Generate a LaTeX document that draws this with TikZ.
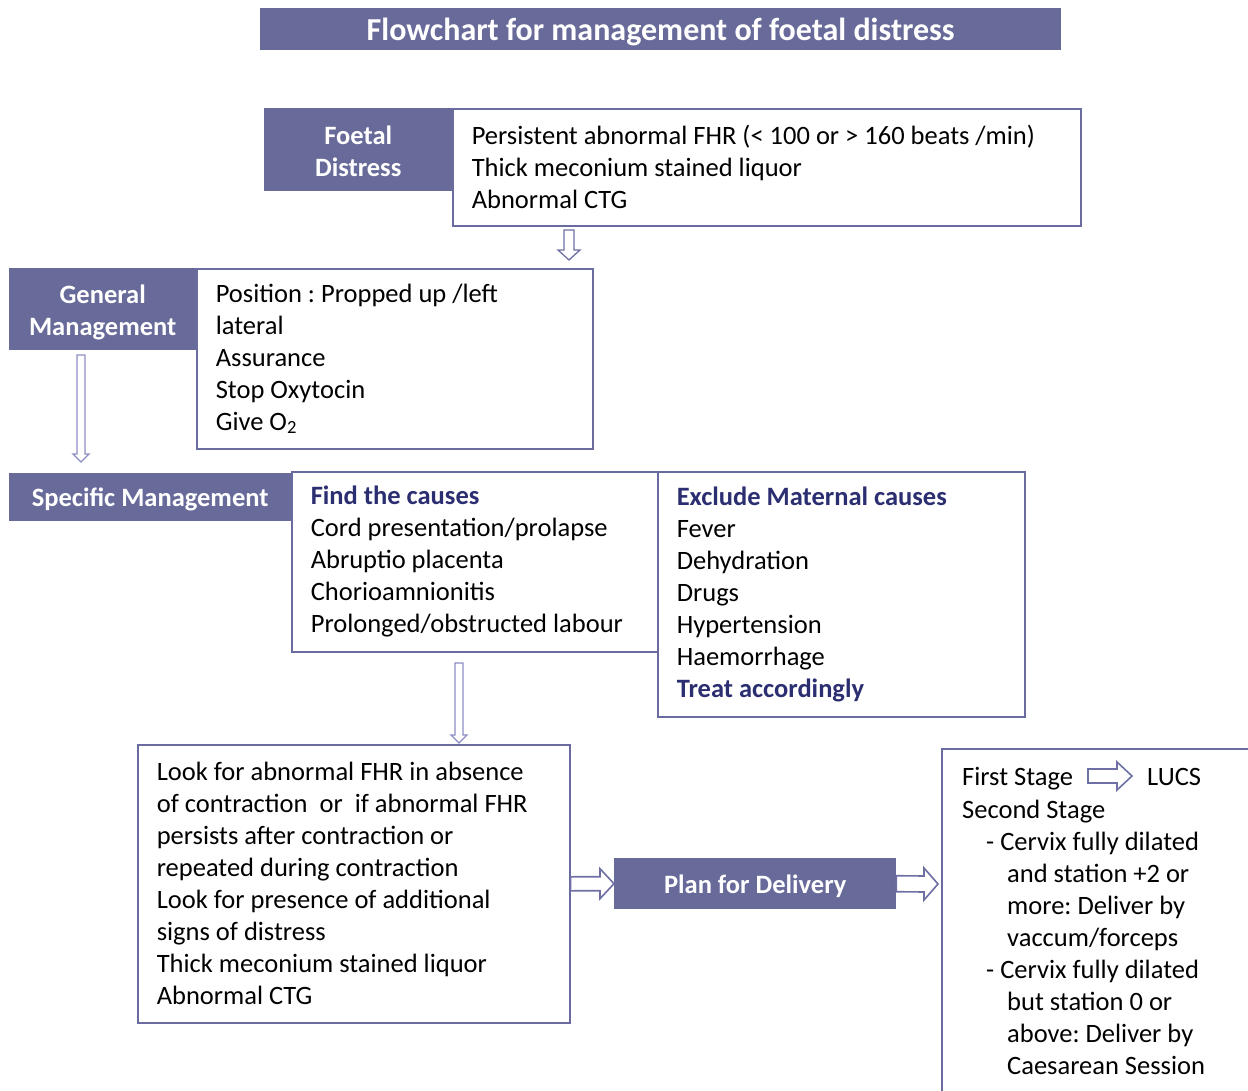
\documentclass[tikz,border=0pt]{standalone}
\usepackage{fontspec}
\setmainfont{Carlito}
\usetikzlibrary{calc}

\definecolor{hdr}{RGB}{104,107,154}
\definecolor{frame}{RGB}{106,108,160}
\definecolor{arrowline}{RGB}{110,112,165}
\definecolor{thinarrow}{RGB}{140,142,195}
\definecolor{navy}{RGB}{43,46,112}

% hollow block arrows: #2 start, #3 tip, #4 half shaft, #5 half head, #6 head length
\newcommand\BlockDown[6][arrowline]{%
  \draw[draw=#1, fill=white, line width=1.3pt, line join=miter]
    ($(#2)+(-#4,0)$) -- ($(#3)+(-#4,-#6)$) -- ($(#3)+(-#5,-#6)$) -- (#3)
    -- ($(#3)+(#5,-#6)$) -- ($(#3)+(#4,-#6)$) -- ($(#2)+(#4,0)$) -- cycle;}
\newcommand\BlockRight[6][arrowline]{%
  \draw[draw=#1, fill=white, line width=1.6pt, line join=miter]
    ($(#2)+(0,-#4)$) -- ($(#3)+(-#6,-#4)$) -- ($(#3)+(-#6,-#5)$) -- (#3)
    -- ($(#3)+(-#6,#5)$) -- ($(#3)+(-#6,#4)$) -- ($(#2)+(0,#4)$) -- cycle;}

% centred label text, set slightly low in its bar (box size unchanged)
\newcommand\barlabel[2][-3pt]{\raisebox{#1}[\height][\depth]{\begin{tabular}{@{}c@{}}#2\end{tabular}}}

\tikzset{
  body/.style={font=\fontsize{26.5}{32}\selectfont},
  title/.style={fill=hdr, text=white, font=\fontsize{32}{36}\selectfont\bfseries,
    minimum width=801pt, minimum height=42pt, inner sep=0pt, anchor=north west},
  tag/.style={fill=hdr, text=white, font=\fontsize{26.5}{32}\selectfont\bfseries,
    inner sep=0pt, anchor=north west},
  infobox/.style={draw=frame, line width=1.6pt, fill=white, body, align=left,
    inner xsep=19pt, inner ysep=0pt, anchor=north west,
    execute at begin node={\spaceskip=0pt\relax\xspaceskip=0pt\relax}},
}

\begin{document}
\frenchspacing
\begin{tikzpicture}[x=1pt, y=-1pt]
\useasboundingbox (0,0) rectangle (1248,1090);

% title bar
\node[title] (head) at (260,8) {\raisebox{-3pt}[\height][\depth]{Flowchart for management of foetal distress}};

% foetal distress
\node[tag, minimum width=188pt, minimum height=83pt] (fd) at (264,108) {\barlabel[-4pt]{Foetal\\Distress}};
\node[infobox, minimum width=628pt, minimum height=117pt, text width=590pt] (signs) at (452,108)
  {Persistent abnormal FHR (< 100 or > 160 beats /min)\\
   Thick meconium stained liquor\\
   Abnormal CTG};

% general management
\node[tag, minimum width=187pt, minimum height=82pt] (gm) at (9,268) {\barlabel[-4pt]{General\\Management}};
\node[infobox, minimum width=396pt, minimum height=180pt, text width=358pt] (general) at (196,268)
  {Position : Propped up /left\\
   lateral\\
   Assurance\\
   Stop Oxytocin\\
   Give O\textsubscript{2}};

% specific management
\node[tag, minimum width=282pt, minimum height=48pt] (sm) at (9,473) {\barlabel{Specific Management}};
\node[infobox, minimum width=366pt, minimum height=180pt, text width=328pt] (causes) at (291,471)
  {{\bfseries\color{navy}Find the causes}\\
   Cord presentation/prolapse\\
   Abruptio placenta\\
   Chorioamnionitis\\
   Prolonged/obstructed labour};
\node[infobox, minimum width=367pt, minimum height=245pt, text width=329pt] (maternal) at (657,471)
  {{\bfseries\color{navy}Exclude Maternal causes}\\
   Fever\\
   Dehydration\\
   Drugs\\
   Hypertension\\
   Haemorrhage\\
   {\bfseries\color{navy}Treat accordingly}};

% assessment
\node[infobox, minimum width=432pt, minimum height=278pt, text width=394pt] (look) at (137,744)
  {Look for abnormal FHR in absence\\
   of contraction~ or~ if abnormal FHR\\
   persists after contraction or\\
   repeated during contraction\\
   Look for presence of additional\\
   signs of distress\\
   Thick meconium stained liquor\\
   Abnormal CTG};

% plan for delivery
\node[tag, minimum width=282pt, minimum height=51pt] (plan) at (614,858) {\barlabel{Plan for Delivery}};

% delivery options
\draw[draw=frame, line width=1.6pt] (942,1100) -- (942,749) -- (1260,749);
\node[body, anchor=base west, inner sep=0pt] (first) at (962,785) {First Stage};
\node[body, anchor=base west, inner sep=0pt] (lucs) at (1147,785) {LUCS};
\node[body, anchor=north west, align=left, inner sep=0pt] (second) at (962,800)
  {Second Stage\\
   \hspace*{24pt}- Cervix fully dilated\\
   \hspace*{45pt}and station +2 or\\
   \hspace*{45pt}more: Deliver by\\
   \hspace*{45pt}vaccum/forceps\\
   \hspace*{24pt}- Cervix fully dilated\\
   \hspace*{45pt}but station 0 or\\
   \hspace*{45pt}above: Deliver by\\
   \hspace*{45pt}Caesarean Session};

% connectors
\coordinate (a1s) at (569,230);
\coordinate (a1e) at (569,260);
\BlockDown{a1s}{a1e}{5}{11}{10}

\coordinate (a2s) at (81,355);
\coordinate (a2e) at (81,462);
\BlockDown[thinarrow]{a2s}{a2e}{4}{8}{8}

\coordinate (a3s) at (459,663);
\coordinate (a3e) at (459,743);
\BlockDown[thinarrow]{a3s}{a3e}{4}{8}{8}

\BlockRight{look.east}{plan.west}{7}{15}{14}

\coordinate (a5e) at (938,884);
\BlockRight{plan.east}{a5e}{8}{16}{14}

\coordinate (a6s) at (1088,776);
\coordinate (a6e) at (1132,776);
\BlockRight{a6s}{a6e}{7}{14}{15}

\end{tikzpicture}
\end{document}
